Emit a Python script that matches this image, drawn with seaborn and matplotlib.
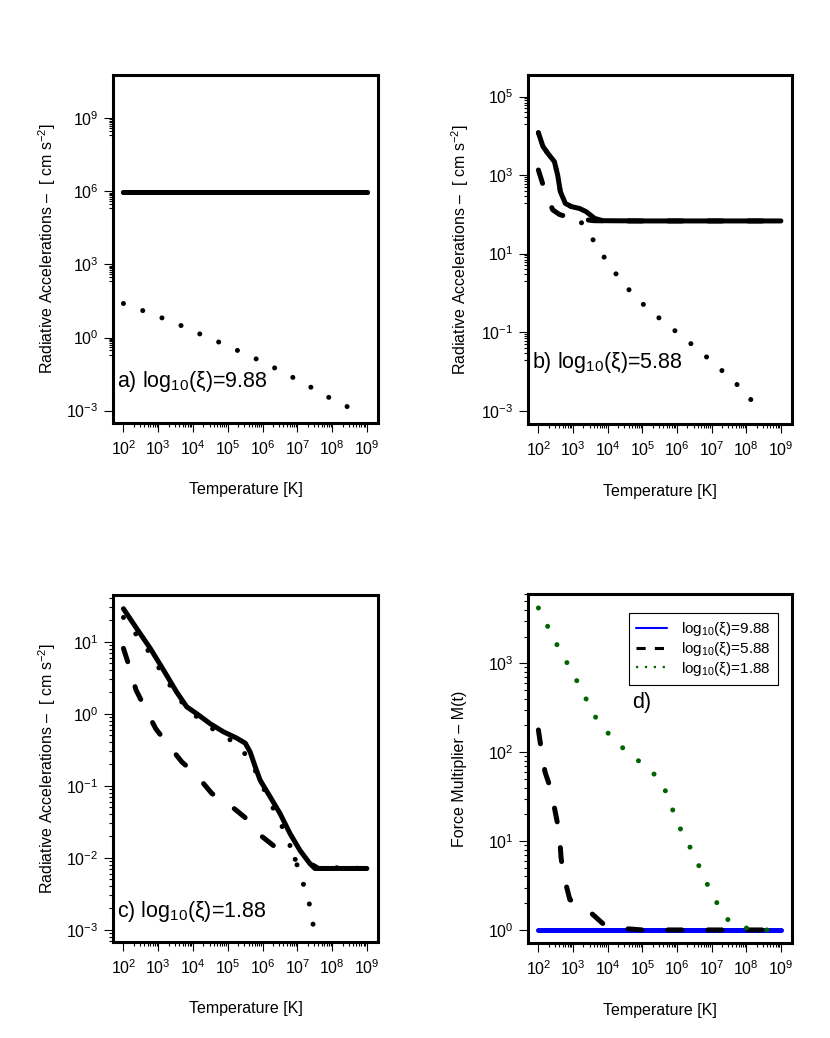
import matplotlib
matplotlib.use("Agg")
import numpy as np
import pandas as pd
import matplotlib.pyplot as plt
from matplotlib.lines import Line2D
from matplotlib.ticker import NullFormatter
import seaborn as sns

# ---- data (temperature [K] vs value) ----
# panel a) log10(xi)=9.88
a_solid_T = [1e2, 1e4, 1e6, 1e9]
a_solid_g = [9.3e5, 9.3e5, 9.3e5, 9.3e5]
a_dash_T = [1e2, 1e4, 1e6, 1e9]
a_dash_g = [9.3e5, 9.3e5, 9.3e5, 9.3e5]
a_dot_T = [1e2, 3.8e2, 1.45e3, 5.6e3, 2.0e4, 7.5e4, 2.8e5, 1.04e6, 3.7e6, 1.3e7, 4.6e7, 1.46e8, 5.0e8]
a_dot_g = [25, 12.4, 6.0, 2.75, 1.2, 0.54, 0.23, 0.098, 0.039, 0.0151, 0.0055, 0.00214, 0.00100]

# panel b) log10(xi)=5.88
b_solid_T = [1e2, 1.35e2, 1.86e2, 2.9e2, 3.6e2, 4.3e2, 6.0e2, 8.9e2, 1.55e3, 2.4e3, 4.2e3, 7.2e3, 1e5, 1e7, 1e9]
b_solid_g = [1.2e4, 5.4e3, 3.6e3, 2.2e3, 1.0e3, 3.8e2, 1.9e2, 1.58e2, 1.41e2, 1.17e2, 79, 69, 68, 68, 68]
b_dash_T = [1e2, 1.4e2, 2.0e2, 2.6e2, 4e2, 7.1e2, 1.6e3, 4e3, 1.26e4, 1e9]
b_dash_g = [1.35e3, 5.2e2, 2.2e2, 1.3e2, 1.0e2, 85, 76, 69, 68, 68]
b_dot_T = [1e2, 1.35e2, 1.86e2, 2.9e2, 3.6e2, 4.3e2, 6.0e2, 8.9e2, 2.0e3, 4.5e3, 9.8e3, 2.3e4, 5.9e4,
           1.66e5, 5.1e5, 1.58e6, 4.8e6, 1.38e7, 4.1e7, 1.1e8, 2.1e8]
b_dot_g = [1.2e4, 5.4e3, 3.6e3, 2.2e3, 1.0e3, 3.8e2, 1.9e2, 1.58e2, 50.7, 18.0, 6.0, 2.19, 0.83,
           0.355, 0.158, 0.072, 0.0316, 0.0141, 0.0058, 0.0026, 0.0010]

# panel c) log10(xi)=1.88  (dashed / dotted drop out where values go non-positive)
c_solid_T = [1e2, 2.4e2, 5.9e2, 1.4e3, 3.4e3, 6.6e3, 1.29e4, 3.1e4, 7.6e4, 1.8e5, 3.2e5, 4.4e5, 6.2e5,
             8.5e5, 1.66e6, 3.2e6, 6.2e6, 1.2e7, 2.3e7, 3.2e7, 1e9]
c_solid_g = [28.8, 15.3, 8.1, 4.1, 2.0, 1.25, 1.0, 0.73, 0.56, 0.46, 0.39, 0.295, 0.182,
             0.12, 0.070, 0.041, 0.0216, 0.0126, 0.0083, 0.0071, 0.0071]
c_dash_T = [1e2, 1.38e2, 2.3e2, 3.8e2, 8.5e2, 1.78e3, 4.8e3, 1.15e4, 3.5e4, 1.05e5, 3.5e5, 7.6e5,
            2.6e6, 5.0e6, 8.7e6, 2.8e7, 4e7, 1e9]
c_dash_g = [8.1, 5.0, 2.14, 1.32, 0.62, 0.39, 0.214, 0.148, 0.078, 0.056, 0.0347, 0.0216,
            0.0135, 0.0107, 0.0095, 0.0079, 0.0071, 0.0071]
c_dash_seg = [0] * 15 + [1] * 3
c_dot_T = [1e2, 2.4e2, 5.6e2, 1.2e3, 2.57e3, 6.0e3, 1.7e4, 5.4e4, 1.8e5, 4.4e5, 8.5e5, 1.48e6, 2.9e6,
           5.2e6, 8.7e6, 1.35e7, 2.1e7, 2.8e7, 3.2e7, 3.5e7, 1e9]
c_dot_g = [21.8, 12.4, 7.1, 3.9, 2.2, 1.25, 0.81, 0.54, 0.385, 0.226, 0.119, 0.065, 0.035,
           0.0184, 0.0095, 0.0050, 0.0026, 0.0013, 0.0005, 0.0074, 0.0071]
c_dot_seg = [0] * 19 + [1] * 2

# panel d) force multiplier
d_hi_T = [1e2, 1e5, 1e9]
d_hi_M = [1.0, 1.0, 1.0]
d_mid_T = [1e2, 1.2e2, 1.55e2, 2.3e2, 3.2e2, 4.0e2, 4.5e2, 5.2e2, 8.1e2, 2.1e3, 7.6e3, 2.6e4, 1e5, 1e9]
d_mid_M = [178, 110, 60, 38, 19.5, 12.6, 6.6, 4.3, 2.19, 1.82, 1.16, 1.04, 1.0, 1.0]
d_lo_T = [1e2, 1.95e2, 3.8e2, 7.6e2, 1.48e3, 2.8e3, 5.6e3, 1.48e4, 4.2e4, 1.35e5, 3.6e5, 6.3e5, 1.0e6,
          1.95e6, 3.7e6, 6.6e6, 1.26e7, 2.6e7, 9.1e7, 3.9e8, 1e9]
d_lo_M = [4200, 2500, 1500, 930, 575, 350, 210, 141, 95, 68.5, 46.5, 27.5, 16.2,
          10.0, 6.0, 3.6, 2.19, 1.34, 1.055, 1.0, 1.0]

legend_labels = ["log$_{10}$(ξ)=9.88", "log$_{10}$(ξ)=5.88", "log$_{10}$(ξ)=1.88"]
ylab_acc = "Radiative Accelerations –  [ cm s$^{-2}$]"

# ---- style ----
sns.set_style("ticks", {"axes.edgecolor": "black", "text.color": "black", "axes.labelcolor": "black",
                        "xtick.color": "black", "ytick.color": "black"})
plt.rcParams["font.family"] = ["Liberation Sans", "DejaVu Sans"]
plt.rcParams["mathtext.fontset"] = "custom"
plt.rcParams["mathtext.rm"] = "Liberation Sans"
plt.rcParams["mathtext.it"] = "Liberation Sans:italic"
plt.rcParams["mathtext.bf"] = "Liberation Sans:bold"

LW = 3.6
STYLES = {"solid": "-", "dash": (0, (2.8, 5.2)), "dot": (0, (0.01, 4.1))}


def draw(ax, T, vals, kind, color="black", seg=None, lw=LW):
    df = pd.DataFrame({"T": T, "v": vals, "seg": seg if seg is not None else [0] * len(T)})
    sns.lineplot(data=df, x="T", y="v", units="seg", estimator=None, sort=False, ax=ax,
                 color=color, lw=lw, linestyle=STYLES[kind], dash_capstyle="round",
                 solid_capstyle="round", legend=False)


def setup(ax, ylim, ymaj, ymin, ylabel, ylab_x):
    ax.set_xscale("log")
    ax.set_yscale("log")
    ax.set_xlim(10 ** 1.70, 10 ** 9.32)
    xmaj = list(range(2, 10))
    ax.set_xticks([10.0 ** n for n in xmaj], labels=["$10^{%d}$" % n for n in xmaj])
    ax.set_xticks([k * 10.0 ** n for n in range(2, 9) for k in range(2, 10)], minor=True)
    ax.set_yticks([10.0 ** n for n in ymaj], labels=["$10^{%d}$" % n for n in ymaj])
    ax.set_yticks([k * 10.0 ** n for n in ymin for k in range(2, 10)], minor=True)
    ax.xaxis.set_minor_formatter(NullFormatter())
    ax.yaxis.set_minor_formatter(NullFormatter())
    ax.set_ylim(10 ** ylim[0], 10 ** ylim[1])
    ax.tick_params(which="major", length=6.5, width=0.8, labelsize=11.5, direction="out")
    ax.tick_params(which="minor", length=3.2, width=0.8, direction="out")
    ax.tick_params(axis="x", which="major", pad=5)
    ax.tick_params(axis="y", which="major", pad=4)
    for s in ax.spines.values():
        s.set_linewidth(2.2)
        s.set_color("black")
    ax.set_xlabel("Temperature [K]", fontsize=11.5)
    ax.xaxis.set_label_coords(0.5, -0.192)
    ax.xaxis.label.set_va("center")
    ax.set_ylabel(ylabel, fontsize=11.5, va="center")
    ax.yaxis.set_label_coords(ylab_x, 0.5)
    ax.grid(False)


fig = plt.figure(figsize=(8.3, 10.38), dpi=100)
W, H = 830, 1038
ax_a = fig.add_axes([113 / W, 1 - 423 / H, 265 / W, 348 / H])
ax_b = fig.add_axes([528 / W, 1 - 424 / H, 264 / W, 349 / H])
ax_c = fig.add_axes([113 / W, 1 - 942 / H, 265 / W, 347 / H])
ax_d = fig.add_axes([528 / W, 1 - 943 / H, 264 / W, 349 / H])

# a)
setup(ax_a, (-3.51, 10.78), [-3, 0, 3, 6, 9], [-1, 2, 5, 8], ylab_acc, -0.25)
draw(ax_a, a_dot_T, a_dot_g, "dot")
draw(ax_a, a_dash_T, a_dash_g, "dash")
draw(ax_a, a_solid_T, a_solid_g, "solid")
ax_a.text(0.015, 0.118, "a) log$_{10}$(ξ)=9.88", transform=ax_a.transAxes, fontsize=15.5,
          ha="left", va="center")

# b)
setup(ax_b, (-3.34, 5.55), [-3, -1, 1, 3, 5], [-2, 0, 2, 4], ylab_acc, -0.258)
draw(ax_b, b_dot_T, b_dot_g, "dot")
draw(ax_b, b_dash_T, b_dash_g, "dash")
draw(ax_b, b_solid_T, b_solid_g, "solid")
ax_b.text(0.015, 0.175, "b) log$_{10}$(ξ)=5.88", transform=ax_b.transAxes, fontsize=15.5,
          ha="left", va="center")

# c)
setup(ax_c, (-3.17, 1.65), [-3, -2, -1, 0, 1], [-4, -3, -2, -1, 0, 1], ylab_acc, -0.25)
draw(ax_c, c_dot_T, c_dot_g, "dot", seg=c_dot_seg)
draw(ax_c, c_dash_T, c_dash_g, "dash", seg=c_dash_seg)
draw(ax_c, c_solid_T, c_solid_g, "solid")
ax_c.text(0.015, 0.0865, "c) log$_{10}$(ξ)=1.88", transform=ax_c.transAxes, fontsize=15.5,
          ha="left", va="center")

# d)
setup(ax_d, (-0.147, 3.78), [0, 1, 2, 3], [0, 1, 2, 3], "Force Multiplier – M(t)", -0.258)
draw(ax_d, d_hi_T, d_hi_M, "solid", color="#0000FF")
draw(ax_d, d_mid_T, d_mid_M, "dash", color="black")
draw(ax_d, d_lo_T, d_lo_M, "dot", color="#006400")
ax_d.text(0.432, 0.688, "d)", transform=ax_d.transAxes, fontsize=15.5, ha="center", va="center")
handles = [Line2D([], [], color="#0000FF", lw=1.5),
           Line2D([], [], color="black", lw=2.2, linestyle=(0, (3, 3))),
           Line2D([], [], color="#006400", lw=1.6, linestyle=(0, (1, 3)))]
leg = ax_d.legend(handles, legend_labels, loc="upper right", bbox_to_anchor=(0.947, 0.946),
                  borderaxespad=0, fontsize=11, frameon=True, fancybox=False, framealpha=1,
                  edgecolor="black", handlelength=2.0, handletextpad=0.9, labelspacing=0.1,
                  borderpad=0.5)
leg.get_frame().set_linewidth(0.8)

fig.savefig("out.png", dpi=100)
